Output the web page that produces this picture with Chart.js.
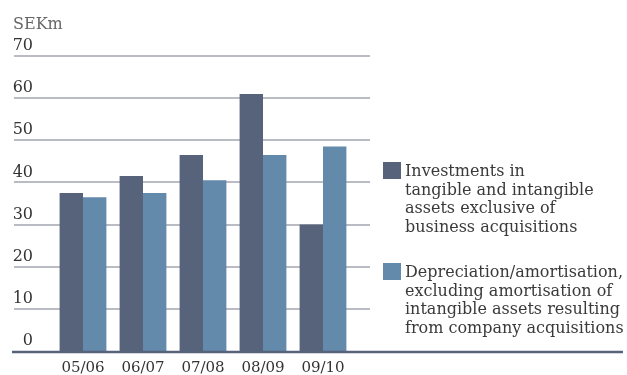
<!DOCTYPE html>
<html>
<head>
<meta charset="utf-8">
<script src="https://cdn.jsdelivr.net/npm/chart.js@4.4.1/dist/chart.umd.min.js"></script>
<style>
  html, body { margin: 0; padding: 0; background: #fff; }
  #wrap { position: relative; width: 627px; height: 375px; }
</style>
</head>
<body>
<div id="wrap"><canvas id="capexChart" width="627" height="375"></canvas></div>
<script>
// Fiscal years shown on the x axis
const years = ['05/06', '06/07', '07/08', '08/09', '09/10'];
// SEKm
const investments = [37.5, 41.5, 46.5, 61, 30];
const depreciation = [36.5, 37.5, 40.5, 46.5, 48.5];
const yTicks = [0, 10, 20, 30, 40, 50, 60, 70];
const unitLabel = 'SEKm';

const legendInvestments = ['Investments in', 'tangible and intangible', 'assets exclusive of', 'business acquisitions'];
const legendDepreciation = ['Depreciation/amortisation,', 'excluding amortisation of', 'intangible assets resulting', 'from company acquisitions'];

const darkBlue = '#56637a';
const lightBlue = '#6389ab';
const gridGrey = '#b9bcc3';
const textGrey = '#333333';
const serif = '"DejaVu Serif", serif';

// Grid lines, y labels, base line and the legend block are drawn by hand
const decorPlugin = {
    id: 'decor',
    beforeDatasetsDraw(chart) {
        const ctx = chart.ctx;
        const y = chart.scales.y;
        ctx.save();
        ctx.strokeStyle = gridGrey;
        ctx.lineWidth = 2;
        yTicks.forEach(v => {
            if (v === 0) return;
            const py = Math.round(y.getPixelForValue(v));
            ctx.beginPath();
            ctx.moveTo(14, py);
            ctx.lineTo(370, py);
            ctx.stroke();
        });
        ctx.fillStyle = textGrey;
        ctx.font = '16px ' + serif;
        ctx.textAlign = 'right';
        ctx.textBaseline = 'middle';
        yTicks.forEach(v => {
            ctx.fillText(String(v), 33, y.getPixelForValue(v) - 10);
        });
        ctx.fillStyle = '#666666';
        ctx.textAlign = 'left';
        ctx.fillText(unitLabel, 13, 25);
        ctx.restore();
    },
    afterDatasetsDraw(chart) {
        const ctx = chart.ctx;
        const y = chart.scales.y;
        ctx.save();
        ctx.strokeStyle = darkBlue;
        ctx.lineWidth = 2.5;
        const base = y.getPixelForValue(0) + 1;
        ctx.beginPath();
        ctx.moveTo(12, base);
        ctx.lineTo(623, base);
        ctx.stroke();

        const drawEntry = (color, lines, top) => {
            ctx.fillStyle = color;
            ctx.fillRect(383, top, 18, 17);
            ctx.fillStyle = '#3a3a3a';
            ctx.font = '16px ' + serif;
            ctx.textAlign = 'left';
            ctx.textBaseline = 'middle';
            lines.forEach((t, i) => ctx.fillText(t, 405, top + 10 + i * 18.5));
        };
        drawEntry(darkBlue, legendInvestments, 162);
        drawEntry(lightBlue, legendDepreciation, 263);
        ctx.restore();
    }
};

new Chart(document.getElementById('capexChart').getContext('2d'), {
    type: 'bar',
    data: {
        labels: years,
        datasets: [{
            label: 'Investments',
            data: investments,
            backgroundColor: darkBlue,
            borderWidth: 0
        }, {
            label: 'Depreciation/amortisation',
            data: depreciation,
            backgroundColor: lightBlue,
            borderWidth: 0
        }]
    },
    options: {
        responsive: false,
        animation: false,
        layout: { padding: { left: 53, right: 274, top: 56, bottom: 0 } },
        datasets: { bar: { categoryPercentage: 0.78, barPercentage: 1 } },
        plugins: { legend: { display: false }, tooltip: { enabled: false } },
        scales: {
            x: {
                grid: { display: false, drawTicks: false },
                border: { display: false },
                ticks: { color: textGrey, font: { family: serif, size: 15 }, padding: 8 },
                afterFit(scale) { scale.height = 24; }
            },
            y: {
                display: false,
                min: 0,
                max: 70
            }
        }
    },
    plugins: [decorPlugin]
});
</script>
</body>
</html>
